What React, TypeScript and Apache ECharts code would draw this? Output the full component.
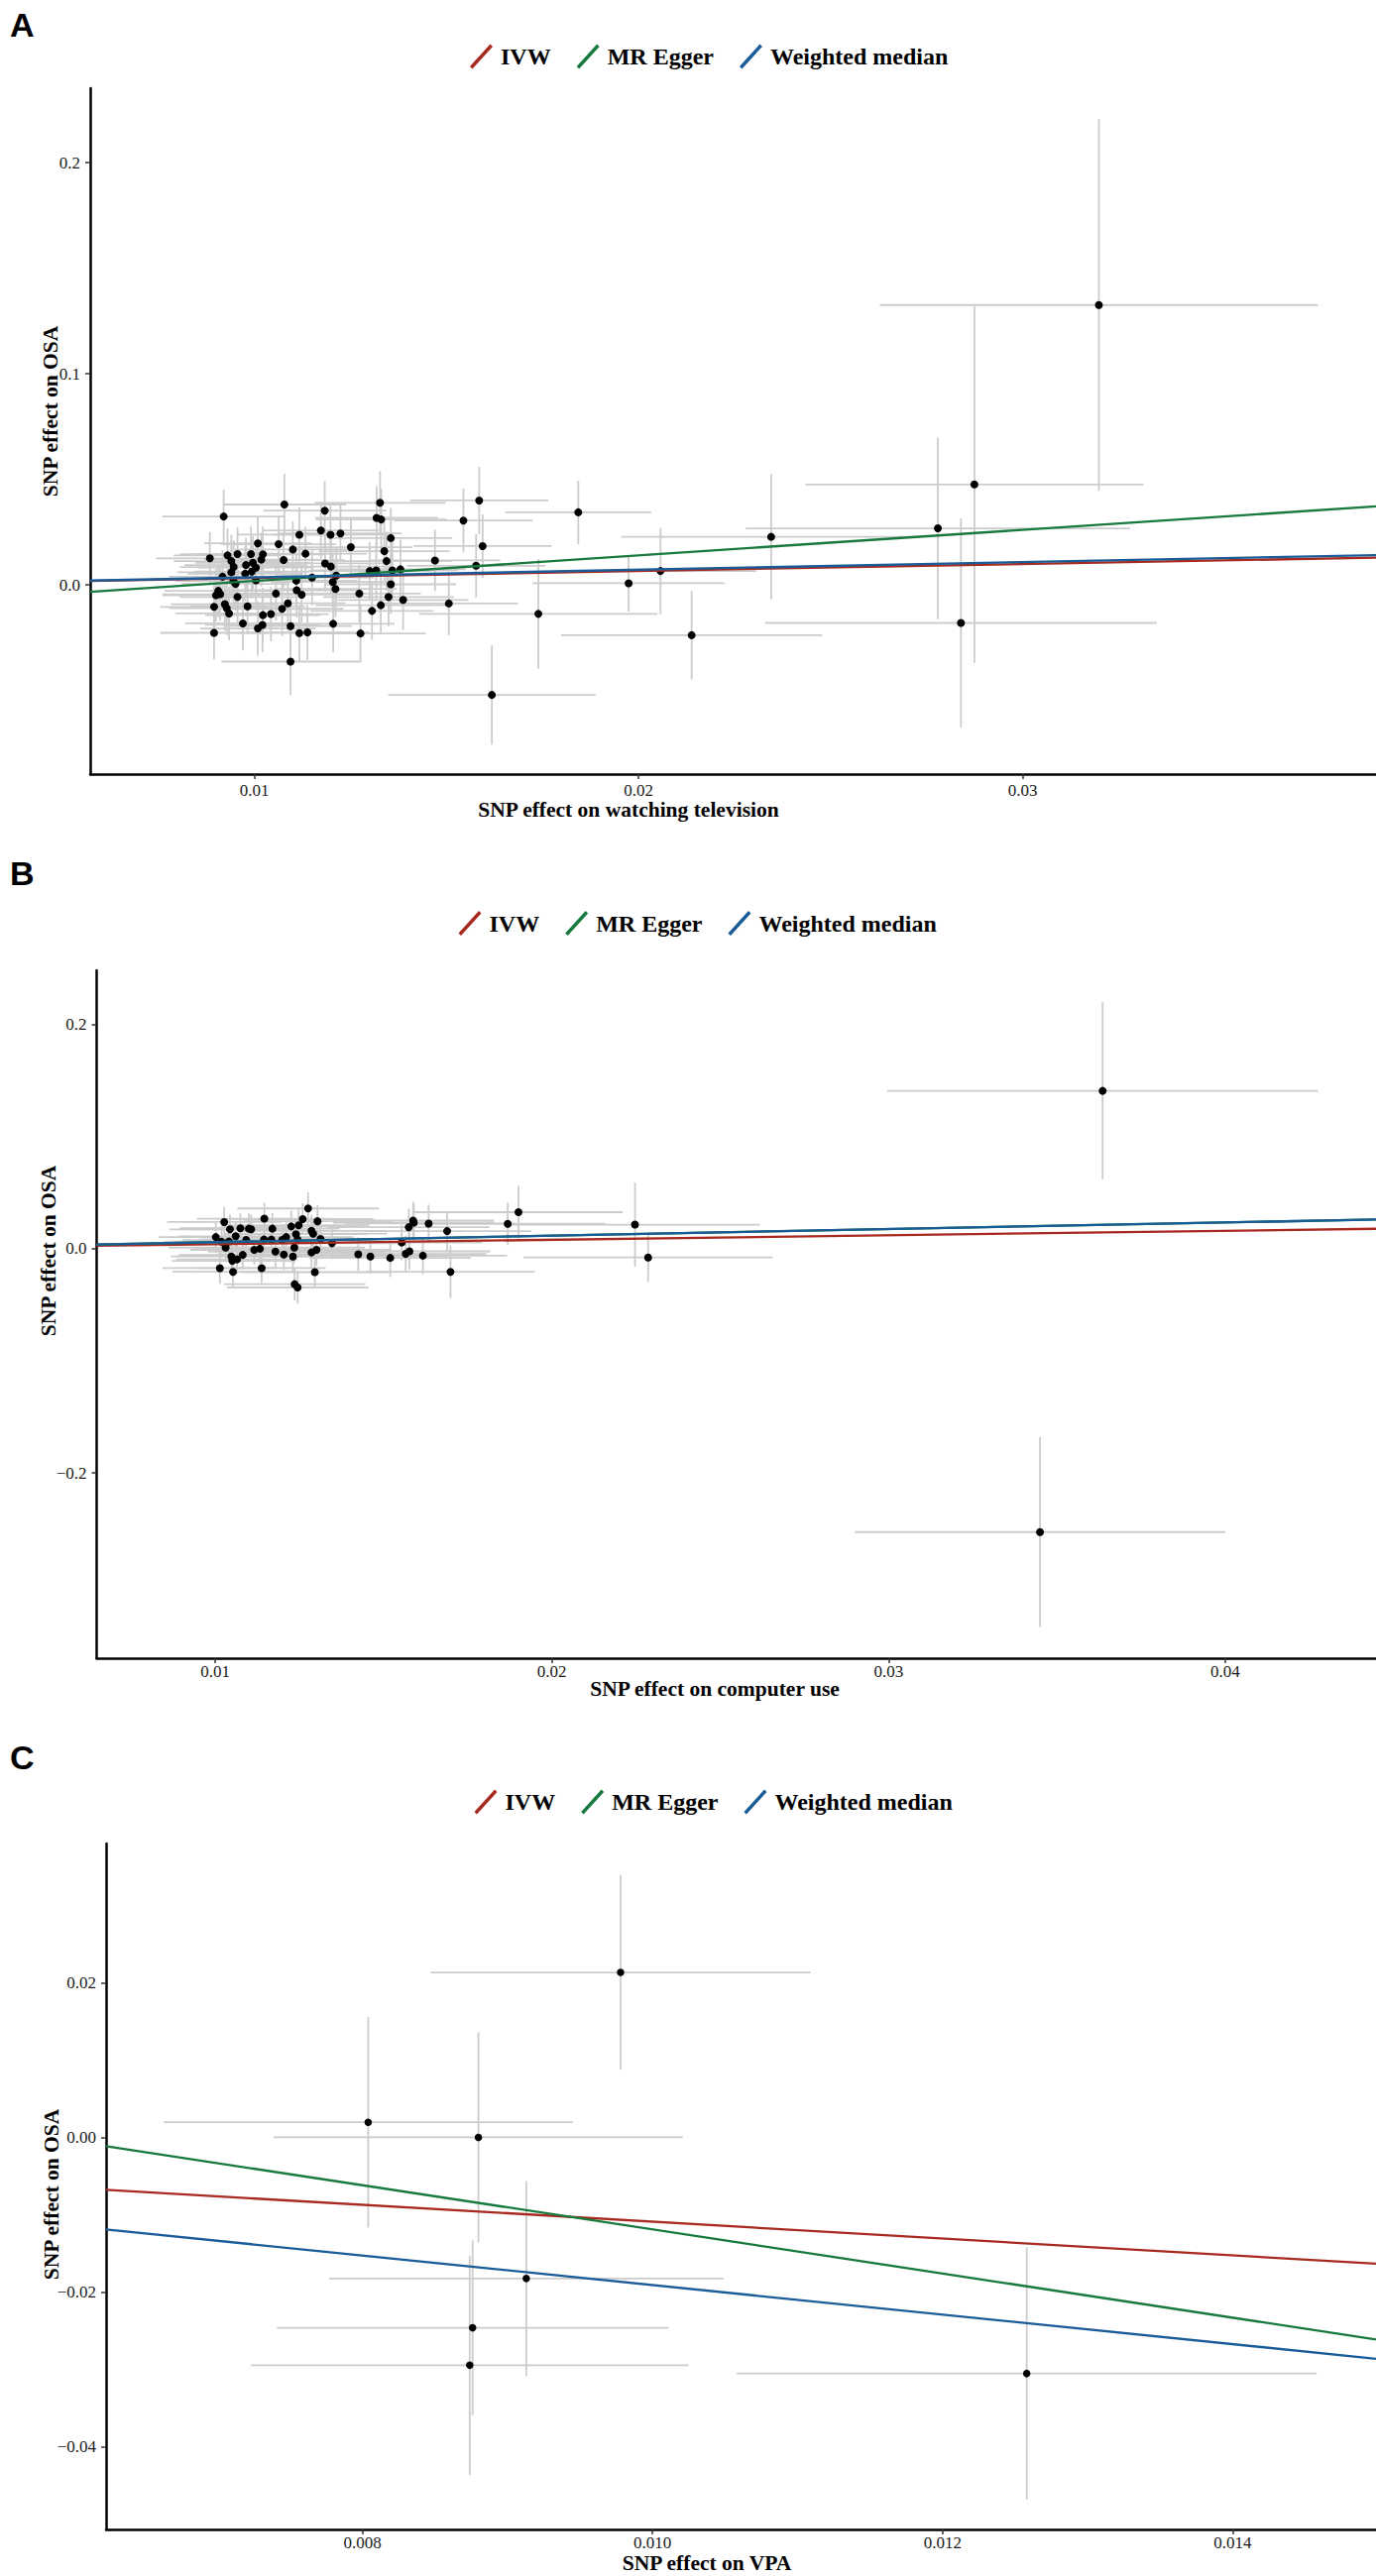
import React, { useEffect, useRef } from "react";
import * as echarts from "echarts";

// ---------- shared ----------
const methodNames = ["IVW", "MR Egger", "Weighted median"];
const methodColors = ["#A8291F", "#17793D", "#1A5C98"];
const panelLetters = ["A", "B", "C"];
const xTitles = [
  "SNP effect on watching television",
  "SNP effect on computer use",
  "SNP effect on VPA",
];
const yTitle = "SNP effect on OSA";

// ---------- Panel A: watching television -> OSA ----------
// [beta exposure, beta outcome, half error bar x, half error bar y]
const tvPoints: number[][] = [
  [0.01078, 0.0381, 0.0016, 0.0146],
  [0.01183, 0.0352, 0.0016, 0.014],
  [0.01327, 0.0389, 0.0017, 0.015],
  [0.01318, 0.0318, 0.0016, 0.015],
  [0.0133, 0.031, 0.0017, 0.0145],
  [0.01585, 0.04, 0.0018, 0.016],
  [0.01544, 0.0305, 0.0018, 0.0152],
  [0.01843, 0.0344, 0.0019, 0.015],
  [0.0092, 0.0324, 0.0016, 0.0127],
  [0.01173, 0.0258, 0.0015, 0.0135],
  [0.01117, 0.0238, 0.0016, 0.013],
  [0.01198, 0.0238, 0.0015, 0.0138],
  [0.01224, 0.0244, 0.0016, 0.0132],
  [0.01355, 0.0222, 0.0016, 0.0142],
  [0.01594, 0.0184, 0.0018, 0.015],
  [0.01063, 0.0193, 0.0015, 0.013],
  [0.01009, 0.0197, 0.0014, 0.0128],
  [0.01251, 0.0179, 0.0016, 0.0135],
  [0.011, 0.0168, 0.0015, 0.0134],
  [0.01133, 0.0148, 0.0016, 0.0128],
  [0.01338, 0.016, 0.0017, 0.014],
  [0.00956, 0.0146, 0.0015, 0.0126],
  [0.0093, 0.014, 0.0014, 0.0128],
  [0.00991, 0.0146, 0.0015, 0.013],
  [0.01022, 0.0145, 0.0016, 0.0132],
  [0.00884, 0.0126, 0.0014, 0.0124],
  [0.01018, 0.012, 0.0015, 0.0128],
  [0.01076, 0.0118, 0.0016, 0.013],
  [0.0094, 0.0113, 0.0015, 0.0125],
  [0.00996, 0.0105, 0.0015, 0.0127],
  [0.00978, 0.0094, 0.0016, 0.013],
  [0.01184, 0.0102, 0.0016, 0.0133],
  [0.01344, 0.0113, 0.0017, 0.014],
  [0.0147, 0.0116, 0.0017, 0.0145],
  [0.01577, 0.0091, 0.0018, 0.015],
  [0.01004, 0.0082, 0.0015, 0.0128],
  [0.00946, 0.0085, 0.0014, 0.0126],
  [0.01199, 0.0087, 0.0016, 0.0134],
  [0.013, 0.0066, 0.0016, 0.0138],
  [0.01317, 0.0069, 0.0017, 0.0136],
  [0.01359, 0.0069, 0.0017, 0.0142],
  [0.0138, 0.0074, 0.0017, 0.014],
  [0.02057, 0.0066, 0.0025, 0.0204],
  [0.02345, 0.0228, 0.0039, 0.0296],
  [0.00993, 0.0063, 0.0015, 0.0128],
  [0.0094, 0.006, 0.0014, 0.0126],
  [0.00976, 0.0053, 0.0015, 0.013],
  [0.00917, 0.0039, 0.0014, 0.0125],
  [0.01213, 0.0044, 0.0016, 0.0134],
  [0.0115, 0.0035, 0.0016, 0.0132],
  [0.01004, 0.0022, 0.0015, 0.0128],
  [0.01109, 0.002, 0.0016, 0.013],
  [0.01204, 0.0014, 0.0016, 0.0135],
  [0.00951, 0.0005, 0.0014, 0.0126],
  [0.01355, 0.0003, 0.0017, 0.014],
  [0.00945, 0.0019, 0.0015, 0.0127],
  [0.01211, -0.0019, 0.0016, 0.0134],
  [0.00906, -0.0028, 0.0014, 0.0124],
  [0.0111, -0.0025, 0.0016, 0.013],
  [0.01056, -0.0041, 0.0015, 0.0128],
  [0.01273, -0.0041, 0.0016, 0.0137],
  [0.01123, -0.0046, 0.0016, 0.0132],
  [0.009, -0.0049, 0.0014, 0.0125],
  [0.00911, -0.0044, 0.0015, 0.0126],
  [0.00956, -0.0057, 0.0015, 0.0127],
  [0.01349, -0.0057, 0.0017, 0.014],
  [0.01387, -0.0071, 0.0017, 0.0142],
  [0.01087, -0.0087, 0.0015, 0.0131],
  [0.01506, -0.0088, 0.0018, 0.015],
  [0.00923, -0.0091, 0.0014, 0.0126],
  [0.00895, -0.0104, 0.0014, 0.0125],
  [0.00982, -0.0101, 0.0015, 0.0128],
  [0.01329, -0.0096, 0.0017, 0.0138],
  [0.00928, -0.011, 0.0015, 0.0127],
  [0.01072, -0.0113, 0.0016, 0.013],
  [0.01306, -0.0123, 0.0016, 0.0137],
  [0.00934, -0.0135, 0.0014, 0.0126],
  [0.01043, -0.0138, 0.0015, 0.0129],
  [0.01022, -0.0143, 0.0015, 0.013],
  [0.01739, -0.0137, 0.0031, 0.026],
  [0.0097, -0.0182, 0.0015, 0.0128],
  [0.01205, -0.0184, 0.0016, 0.0135],
  [0.01021, -0.0189, 0.0015, 0.013],
  [0.01009, -0.0206, 0.0015, 0.0128],
  [0.01094, -0.0195, 0.0016, 0.0132],
  [0.00895, -0.0227, 0.0014, 0.0126],
  [0.01117, -0.0228, 0.0016, 0.0133],
  [0.01138, -0.0225, 0.0016, 0.0131],
  [0.01276, -0.023, 0.0017, 0.0138],
  [0.02138, -0.0238, 0.0034, 0.021],
  [0.01094, -0.0363, 0.0018, 0.0157],
  [0.01618, -0.0521, 0.0027, 0.0235],
  [0.01974, 0.0008, 0.0025, 0.0134],
  [0.02779, 0.0268, 0.005, 0.043],
  [0.02874, 0.0476, 0.0044, 0.0845],
  [0.03198, 0.1326, 0.0057, 0.088],
  [0.02839, -0.018, 0.0051, 0.0495],
];
const tvSlopes = [0.33, 1.21, 0.36];
const tvIntercepts = [0, -0.0102, 0];
const tvXRange = [0.005726, 0.039193];
const tvYRange = [-0.0896, 0.2353];
const tvXTicks = [0.01, 0.02, 0.03];
const tvYTicks = [0, 0.1, 0.2];

// ---------- Panel B: computer use -> OSA ----------
const cuPoints: number[][] = [
  [0.01002, 0.0104, 0.0017, 0.013],
  [0.01027, 0.0238, 0.0017, 0.0135],
  [0.01044, 0.0173, 0.0018, 0.0132],
  [0.01075, 0.0183, 0.0018, 0.0133],
  [0.01061, 0.0111, 0.0017, 0.013],
  [0.01019, 0.0062, 0.0017, 0.0128],
  [0.01031, 0.001, 0.0017, 0.013],
  [0.01041, 0.0065, 0.0018, 0.0131],
  [0.01048, -0.0069, 0.0018, 0.013],
  [0.01051, -0.0108, 0.0018, 0.0132],
  [0.01065, -0.0095, 0.0018, 0.0131],
  [0.01082, -0.0055, 0.0019, 0.0132],
  [0.01014, -0.0173, 0.0017, 0.014],
  [0.01053, -0.0206, 0.0018, 0.0138],
  [0.01092, 0.0078, 0.0019, 0.0134],
  [0.011, 0.0179, 0.0019, 0.0135],
  [0.01107, 0.0173, 0.0019, 0.0133],
  [0.01116, -0.001, 0.0019, 0.0134],
  [0.01138, -0.0173, 0.0019, 0.0136],
  [0.01133, 0.0, 0.0019, 0.0134],
  [0.01146, 0.0268, 0.002, 0.014],
  [0.01145, 0.0082, 0.0019, 0.0135],
  [0.01167, 0.0082, 0.002, 0.0136],
  [0.0117, 0.0179, 0.002, 0.0138],
  [0.01179, -0.0026, 0.002, 0.0136],
  [0.01199, 0.0078, 0.002, 0.0137],
  [0.01204, -0.0052, 0.002, 0.0138],
  [0.01211, 0.0104, 0.002, 0.0136],
  [0.01226, 0.0199, 0.0021, 0.014],
  [0.01235, 0.001, 0.0021, 0.0138],
  [0.01231, -0.0069, 0.002, 0.0139],
  [0.0124, 0.013, 0.0021, 0.014],
  [0.01248, 0.0209, 0.0021, 0.0142],
  [0.0126, 0.0264, 0.0021, 0.0141],
  [0.01276, 0.0359, 0.0021, 0.0144],
  [0.01286, 0.016, 0.0022, 0.0142],
  [0.01291, 0.0134, 0.0022, 0.014],
  [0.01304, 0.0245, 0.0022, 0.0143],
  [0.01245, 0.0082, 0.0021, 0.0139],
  [0.01286, -0.0033, 0.0022, 0.0141],
  [0.01301, -0.001, 0.0022, 0.014],
  [0.01296, -0.0209, 0.0022, 0.0145],
  [0.01236, -0.0316, 0.0021, 0.0143],
  [0.01245, -0.0346, 0.0021, 0.0144],
  [0.01313, 0.0088, 0.0022, 0.0141],
  [0.01347, 0.0049, 0.0022, 0.0142],
  [0.01425, -0.0049, 0.0023, 0.015],
  [0.01461, -0.0069, 0.0023, 0.0152],
  [0.0152, -0.0082, 0.0024, 0.017],
  [0.01554, 0.0055, 0.0024, 0.016],
  [0.01566, -0.0046, 0.0024, 0.0162],
  [0.01577, -0.0023, 0.0024, 0.0163],
  [0.01575, 0.0192, 0.0024, 0.0165],
  [0.01588, 0.0251, 0.0024, 0.0168],
  [0.0159, 0.0232, 0.0024, 0.0166],
  [0.01617, -0.0062, 0.0025, 0.0165],
  [0.01634, 0.0225, 0.0025, 0.0168],
  [0.01689, 0.0157, 0.0025, 0.018],
  [0.01699, -0.0206, 0.0025, 0.0235],
  [0.01869, 0.0222, 0.0029, 0.019],
  [0.01901, 0.0326, 0.0031, 0.0235],
  [0.02247, 0.0215, 0.0037, 0.0375],
  [0.02286, -0.0078, 0.0037, 0.022],
  [0.03636, 0.1408, 0.0064, 0.0791],
  [0.0345, -0.2527, 0.0055, 0.0846],
];
const cuSlopes = [0.4, 0.585, 0.585];
const cuIntercepts = [0, 0, 0];
const cuXRange = [0.00648, 0.04448];
const cuYRange = [-0.3652, 0.2483];
const cuXTicks = [0.01, 0.02, 0.03, 0.04];
const cuYTicks = [-0.2, 0, 0.2];

// ---------- Panel C: VPA -> OSA ----------
const vpaPoints: number[][] = [
  [0.00978, 0.02133, 0.00131, 0.0126],
  [0.00804, 0.00196, 0.00141, 0.0136],
  [0.0088, 0.0, 0.00141, 0.0136],
  [0.00913, -0.01825, 0.00136, 0.0126],
  [0.00876, -0.02463, 0.00135, 0.0113],
  [0.00874, -0.02947, 0.00151, 0.0142],
  [0.01258, -0.03053, 0.002, 0.0163],
];
const vpaSlopes = [-1.09, -2.855, -1.91];
const vpaIntercepts = [0, 0.01665, 0];
const vpaXRange = [0.006233, 0.014988];
const vpaYRange = [-0.0507, 0.038];
const vpaXTicks = [0.008, 0.01, 0.012, 0.014];
const vpaYTicks = [-0.04, -0.02, 0, 0.02];

// ---------- layout (positions & sizes, not data) ----------
const panels = [
  {
    pts: tvPoints, slopes: tvSlopes, icpts: tvIntercepts,
    xr: tvXRange, yr: tvYRange, xt: tvXTicks, yt: tvYTicks, xDec: 2, yDec: 1,
    grid: { left: 91, top: 89, width: 1297, height: 692 },
    letterY: 25, legendLeft: 474, legendTop: 44.5,
    xTitleXY: [634, 816.5], yTitleXY: [50.7, 415], xMargin: 8, dot: 8,
  },
  {
    pts: cuPoints, slopes: cuSlopes, icpts: cuIntercepts,
    xr: cuXRange, yr: cuYRange, xt: cuXTicks, yt: cuYTicks, xDec: 2, yDec: 1,
    grid: { left: 97.5, top: 979, width: 1290.5, height: 694 },
    letterY: 881, legendLeft: 462.5, legendTop: 919,
    xTitleXY: [721, 1704], yTitleXY: [49, 1262], xMargin: 5, dot: 8,
  },
  {
    pts: vpaPoints, slopes: vpaSlopes, icpts: vpaIntercepts,
    xr: vpaXRange, yr: vpaYRange, xt: vpaXTicks, yt: vpaYTicks, xDec: 3, yDec: 2,
    grid: { left: 107, top: 1860, width: 1281, height: 692 },
    letterY: 1773, legendLeft: 478.5, legendTop: 1805.5,
    xTitleXY: [713, 2586], yTitleXY: [51.7, 2214], xMargin: 5, dot: 7.5,
  },
];

const SERIF = '"Liberation Serif", "Times New Roman", serif';
const slashIcon = "path://M0,22.6 L20.5,0 L23,2.4 L2.5,25 Z";

function fmt(v: number, d: number): string {
  const s = Math.abs(v) < 1e-12 ? (0).toFixed(d) : v.toFixed(d);
  return s.replace("-", "\u2212");
}

function buildOption(): any {
  const series: any[] = [];
  panels.forEach((p, i) => {
    series.push({
      type: "custom",
      name: "SE",
      xAxisIndex: i,
      yAxisIndex: i,
      clip: true,
      silent: true,
      z: 1,
      dimensions: ["x", "y", "xe", "ye"],
      encode: { x: 0, y: 1 },
      data: p.pts,
      renderItem: (_params: any, api: any) => {
        const x = api.value(0);
        const y = api.value(1);
        const xe = api.value(2);
        const ye = api.value(3);
        const a = api.coord([x - xe, y]);
        const b = api.coord([x + xe, y]);
        const c = api.coord([x, y - ye]);
        const d = api.coord([x, y + ye]);
        const st = { stroke: "#cccccc", lineWidth: 1.8 };
        return {
          type: "group",
          children: [
            { type: "line", shape: { x1: a[0], y1: a[1], x2: b[0], y2: b[1] }, style: st },
            { type: "line", shape: { x1: c[0], y1: c[1], x2: d[0], y2: d[1] }, style: st },
          ],
        };
      },
    });
    series.push({
      type: "scatter",
      name: "SNP",
      xAxisIndex: i,
      yAxisIndex: i,
      symbolSize: p.dot,
      silent: true,
      z: 3,
      itemStyle: { color: "#000000", opacity: 1 },
      data: p.pts.map((q) => [q[0], q[1]]),
    });
    methodNames.forEach((m, k) => {
      const x0 = p.xr[0];
      const x1 = p.xr[1];
      series.push({
        type: "line",
        name: m,
        xAxisIndex: i,
        yAxisIndex: i,
        color: methodColors[k],
        symbol: "none",
        showSymbol: false,
        clip: true,
        silent: true,
        z: 4 + k,
        itemStyle: { color: methodColors[k] },
        lineStyle: { color: methodColors[k], width: 2.3 },
        data: [
          [x0, p.icpts[k] + p.slopes[k] * x0],
          [x1, p.icpts[k] + p.slopes[k] * x1],
        ],
      });
    });
  });

  const graphic: any[] = [];
  panels.forEach((p, i) => {
    graphic.push({
      type: "text",
      x: 10,
      y: p.letterY,
      silent: true,
      style: {
        text: panelLetters[i],
        font: 'bold 34px "Liberation Sans", Arial, sans-serif',
        fill: "#000",
        align: "left",
        verticalAlign: "middle",
        textAlign: "left",
        textVerticalAlign: "middle",
      },
    });
    graphic.push({
      type: "text",
      x: p.xTitleXY[0],
      y: p.xTitleXY[1],
      silent: true,
      style: {
        text: xTitles[i],
        font: "bold 21.5px " + SERIF,
        fill: "#000",
        align: "center",
        verticalAlign: "middle",
        textAlign: "center",
        textVerticalAlign: "middle",
      },
    });
    graphic.push({
      type: "text",
      x: p.yTitleXY[0],
      y: p.yTitleXY[1],
      rotation: Math.PI / 2,
      silent: true,
      style: {
        text: yTitle,
        font: "bold 21.5px " + SERIF,
        fill: "#000",
        align: "center",
        verticalAlign: "middle",
        textAlign: "center",
        textVerticalAlign: "middle",
      },
    });
  });

  return {
    animation: false,
    backgroundColor: "#ffffff",
    grid: panels.map((p) => ({ ...p.grid, containLabel: false })),
    legend: panels.map((p) => ({
      data: methodNames,
      left: p.legendLeft,
      top: p.legendTop,
      orient: "horizontal",
      padding: 0,
      itemGap: 26,
      itemWidth: 23,
      itemHeight: 25,
      icon: slashIcon,
      selectedMode: false,
      itemStyle: { borderWidth: 0 },
      textStyle: {
        fontFamily: SERIF,
        fontWeight: "bold",
        fontSize: 24,
        color: "#000",
        padding: [0, 0, 0, 3],
      },
    })),
    xAxis: panels.map((p, i) => ({
      type: "value",
      gridIndex: i,
      min: p.xr[0],
      max: p.xr[1],
      axisLine: { show: true, onZero: false, lineStyle: { color: "#000", width: 2.5 } },
      axisTick: {
        show: true,
        length: 5,
        customValues: p.xt,
        lineStyle: { color: "#333", width: 1.5 },
      },
      axisLabel: {
        show: true,
        customValues: p.xt,
        margin: p.xMargin,
        formatter: (v: number) => fmt(v, p.xDec),
        fontFamily: SERIF,
        fontSize: 17,
        color: "#1a1a1a",
      },
      splitLine: { show: false },
    })),
    yAxis: panels.map((p, i) => ({
      type: "value",
      gridIndex: i,
      min: p.yr[0],
      max: p.yr[1],
      axisLine: { show: true, onZero: false, lineStyle: { color: "#000", width: 2.5 } },
      axisTick: {
        show: true,
        length: 5,
        customValues: p.yt,
        lineStyle: { color: "#333", width: 1.5 },
      },
      axisLabel: {
        show: true,
        customValues: p.yt,
        margin: 10,
        formatter: (v: number) => fmt(v, p.yDec),
        fontFamily: SERIF,
        fontSize: 17,
        color: "#1a1a1a",
      },
      splitLine: { show: false },
    })),
    graphic,
    series,
  };
}

export default function App() {
  const ref = useRef<HTMLDivElement | null>(null);
  useEffect(() => {
    document.body.style.margin = "0";
    if (!ref.current) return;
    const chart = echarts.init(ref.current, null, { renderer: "svg" });
    chart.setOption(buildOption());
    return () => {
      chart.dispose();
    };
  }, []);
  return <div ref={ref} style={{ width: 1388, height: 2599, background: "#fff" }} />;
}
